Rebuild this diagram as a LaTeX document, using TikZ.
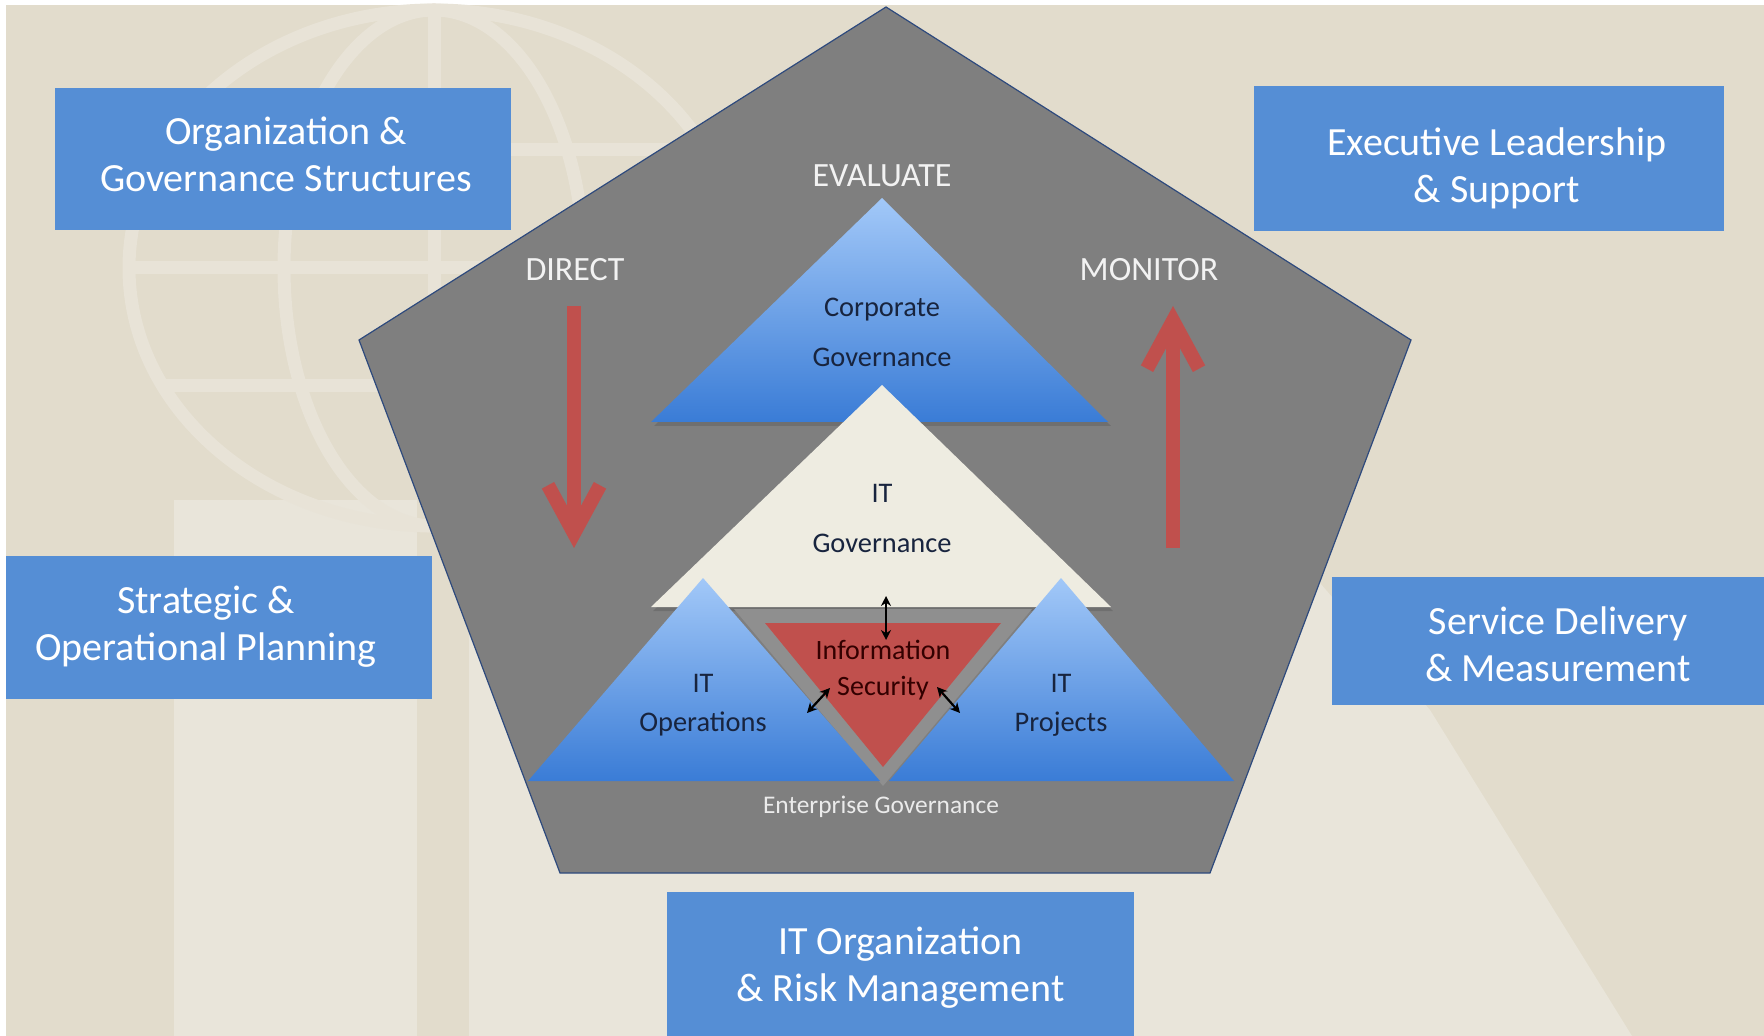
\documentclass[tikz,border=0pt]{standalone}
\usepackage{fontspec}
\setmainfont{Carlito}
\usepackage{xcolor}
\usepackage{tikz}
\usetikzlibrary{arrows.meta}

\definecolor{bgbeige}{RGB}{226,220,204}
\definecolor{bglight}{RGB}{233,229,218}
\definecolor{globeline}{RGB}{232,227,215}
\definecolor{boxblue}{RGB}{85,142,213}
\definecolor{penta}{RGB}{127,127,127}
\definecolor{pentaline}{RGB}{46,74,125}
\definecolor{trilight}{RGB}{162,200,248}
\definecolor{tridark}{RGB}{58,124,214}
\definecolor{cream}{RGB}{238,236,225}
\definecolor{secred}{RGB}{192,80,77}
\definecolor{secband}{RGB}{143,143,143}
\definecolor{navytext}{RGB}{24,36,62}

\begin{document}
\begin{tikzpicture}[x=0.5pt, y=-0.5pt,
  topic/.style={fill=boxblue, inner sep=0pt},
  topictext/.style={text=white, align=center, inner sep=0pt, font=\fontsize{20}{23.5}\selectfont},
  phase/.style={text=white!95!black, font=\fontsize{17}{20}\selectfont},
  layer/.style={text=navytext, align=center, inner sep=0pt, font=\fontsize{14.2}{25}\selectfont},
  redarrow/.style={draw=secred, line width=7pt, -{Straight Barb[length=24pt, width=26pt]}},
  link/.style={black, line width=1.1pt, {Stealth[length=5pt, width=5pt]}-{Stealth[length=5pt, width=5pt]}}]
  \useasboundingbox (0,0) rectangle (1764,1036);
  \clip (0,0) rectangle (1764,1036);
  % background and globe watermark
  \fill[white] (0,0) rectangle (1764,1036);
  \fill[bgbeige] (6,5) rectangle (1764,1036);
  \fill[bglight] (174,500) rectangle (417,1036);
  \fill[bglight] (469,560) -- (1300,560) -- (1430,710) -- (1632,1036) -- (469,1036) -- cycle;
  \begin{scope}[draw=globeline, line width=6.5pt]
    \draw (434,268) ellipse [x radius=305, y radius=258];
    \draw (434,268) ellipse [x radius=150, y radius=258];
    \draw (434,10) -- (434,526);
    \draw (160,150) -- (708,150);
    \draw (130,268) -- (738,268);
    \draw (160,386) -- (708,386);
  \end{scope}

  % pentagon and triangles
  \filldraw[fill=penta, draw=pentaline, line width=0.6pt] (886,7) -- (1411,340) -- (1210,873) -- (560,873) -- (359,340) -- cycle;
  \fill[black, opacity=0.12] (884,202) -- (1111,426) -- (654,426) -- cycle;
  \shade[top color=trilight, bottom color=tridark] (882,198) -- (1108,422) -- (651,422) -- cycle;
  \fill[black, opacity=0.12] (884,389) -- (1113,611) -- (653,611) -- cycle;
  \fill[cream] (882,385) -- (1111,607) -- (651,607) -- cycle;
  \fill[secband] (734,609) -- (1032,609) -- (883,786) -- cycle;
  \shade[top color=trilight, bottom color=tridark] (703,578) -- (880,781) -- (528,781) -- cycle;
  \shade[top color=trilight, bottom color=tridark] (1061,578) -- (1234,781) -- (889,781) -- cycle;
  \fill[secred] (765,623) -- (1001,623) -- (883,767) -- cycle;

  % labels
  \node[phase] (evaluate) at (882,176) {EVALUATE};
  \node[phase] (direct) at (575,270) {DIRECT};
  \node[phase] (monitor) at (1149,270) {MONITOR};
  \node[layer] (corpgov) at (882,332) {Corporate\\Governance};
  \node[layer] (itgov) at (882,518) {IT\\Governance};
  \node[layer, font=\fontsize{14.2}{19.5}\selectfont] (itops) at (703,705) {IT\\Operations};
  \node[layer, font=\fontsize{14.2}{19.5}\selectfont] (itproj) at (1061,705) {IT\\Projects};
  \node[layer, text=black!80!red, font=\fontsize{14}{18}\selectfont] (infosec) at (883,670) {Information\\Security};
  \node[text=white!92!black, font=\fontsize{12.7}{15}\selectfont] (entgov) at (881,807) {Enterprise Governance};

  % direct / monitor arrows
  \coordinate (dtop) at (574,306);
  \coordinate (dtip) at (574,548);
  \coordinate (mfoot) at (1173,548);
  \coordinate (mtip) at (1173,306);
  \draw[redarrow] (dtop) -- (dtip);
  \draw[redarrow] (mfoot) -- (mtip);

  % links of information security
  \coordinate (secup) at (886,596);
  \coordinate (secmid) at (886,640);
  \coordinate (opsend) at (807,713);
  \coordinate (secleft) at (830,688);
  \coordinate (secright) at (937,687);
  \coordinate (projend) at (960,713);
  \draw[link] (secup) -- (secmid);
  \draw[link] (opsend) -- (secleft);
  \draw[link] (secright) -- (projend);

  % outer boxes
  \node[topic, minimum width=228pt, minimum height=71pt] (orgbox) at (283,159) {};
  \node[topic, minimum width=235pt, minimum height=72.5pt] (execbox) at (1489,158.5) {};
  \node[topic, minimum width=213pt, minimum height=71.5pt] (planbox) at (219,627.5) {};
  \node[topic, minimum width=226pt, minimum height=64pt] (servicebox) at (1558,641) {};
  \node[topic, minimum width=233.5pt, minimum height=73pt] (riskbox) at (900.5,965) {};
  \node[topictext] (orgtext) at (286,154.5) {Organization \&\\Governance Structures};
  \node[topictext] (exectext) at (1497,168) {Executive Leadership\\\& Support};
  \node[topictext] (plantext) at (206,627) {Strategic \&\\Operational Planning};
  \node[topictext] (servicetext) at (1558,644) {Service Delivery\\\& Measurement};
  \node[topictext] (risktext) at (900.5,968) {IT Organization\\\& Risk Management};
\end{tikzpicture}
\end{document}
